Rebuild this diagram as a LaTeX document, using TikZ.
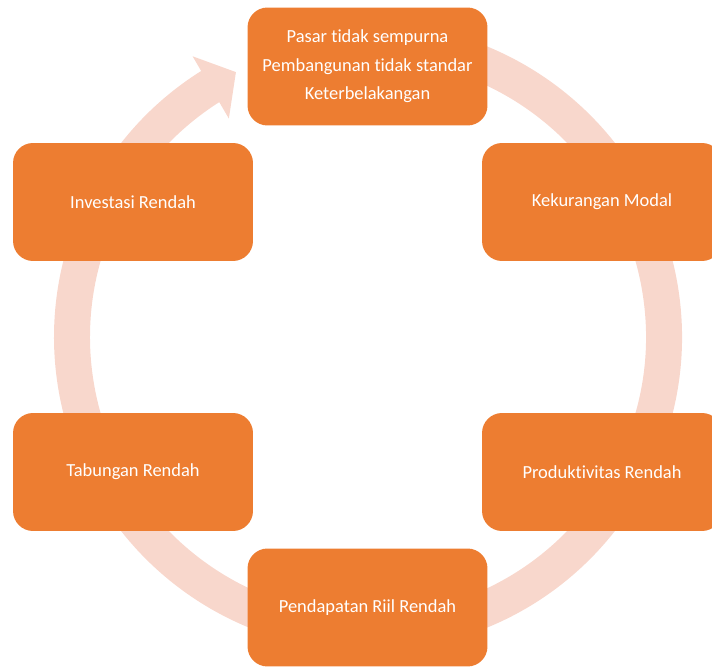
\documentclass[tikz,border=0pt]{standalone}
\usepackage{fontspec}
\setmainfont[Ligatures={NoCommon}]{Carlito}
\usetikzlibrary{calc}
\definecolor{boxorange}{RGB}{237,125,49}
\definecolor{ringpink}{RGB}{248,215,204}

\begin{document}
\begin{tikzpicture}[line cap=butt,line join=round,x=0.02cm,y=0.02cm,
    stage/.style={fill=boxorange,draw=none,rounded corners=0.4cm,
      minimum width=4.8cm,minimum height=2.36cm,text=white,align=center,
      font=\fontsize{10.5}{16.2}\selectfont},
    ring/.style={draw=ringpink,line width=0.72cm}]
    \useasboundingbox (0,0) rectangle (712,666);
    \clip (0,0) rectangle (712,666);
    \coordinate (C) at (368,329);
    % circular arrow behind the boxes
    \draw [ring] ($(C)+(100:296)$) arc (100:-238:296);
    \fill [ringpink] ($(C)+(122:331)$) -- ($(C)+(116.5:296)$) -- ($(C)+(122.5:259)$) -- cycle;
    % the six stages
    \node[stage] (pasar) at (367.5,599.5) {Pasar tidak sempurna\\Pembangunan tidak standar\\Keterbelakangan};
    \node[stage] (modal) at (602,464) {Kekurangan Modal};
    \node[stage] (produktivitas) at (602,194) {Produktivitas Rendah};
    \node[stage] (pendapatan) at (367.5,58.5) {Pendapatan Riil Rendah};
    \node[stage] (tabungan) at (133,194) {Tabungan Rendah};
    \node[stage] (investasi) at (133,464) {Investasi Rendah};
\end{tikzpicture}
\end{document}
